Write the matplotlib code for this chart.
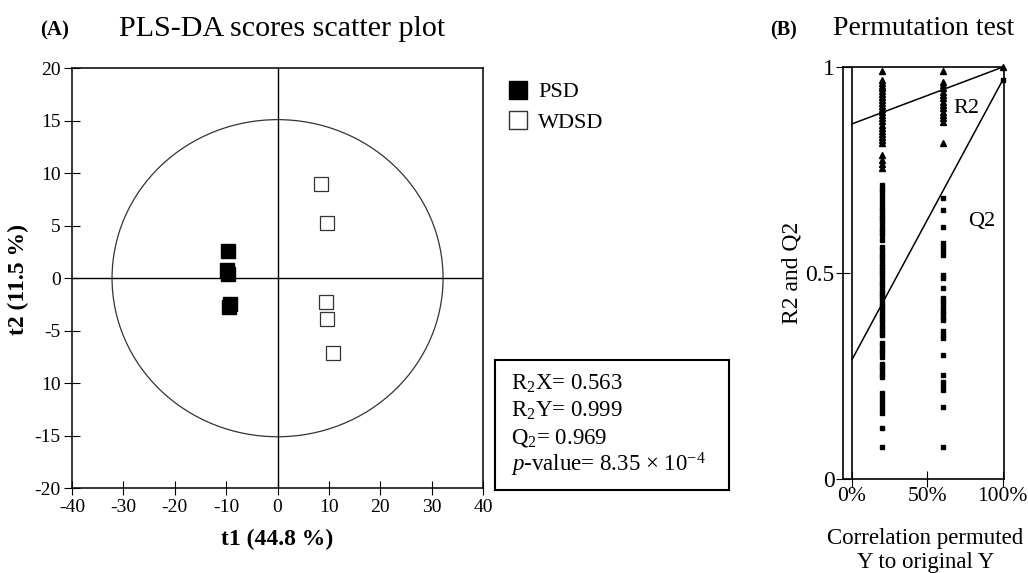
import numpy as np
import matplotlib
matplotlib.use("Agg")
import matplotlib.pyplot as plt
from matplotlib.patches import Ellipse
from matplotlib.lines import Line2D

plt.rcParams['font.family'] = ['Liberation Serif', 'DejaVu Serif']
plt.rcParams['mathtext.fontset'] = 'custom'
plt.rcParams['mathtext.rm'] = 'Liberation Serif'
plt.rcParams['mathtext.it'] = 'Liberation Serif:italic'
plt.rcParams['axes.unicode_minus'] = False

# (A) PLS-DA scores
psd_t1 = [-9.7, -9.9, -9.6, -9.3, -9.5]
psd_t2 = [2.6, 0.8, 0.4, -2.5, -2.7]
wdsd_t1 = [8.4, 9.7, 9.5, 9.7, 10.7]
wdsd_t2 = [9.0, 5.3, -2.3, -3.9, -7.1]
ellipse_rx = 32.2
ellipse_ry = 15.1
y_ticks = [20, 15, 10, 5, 0, -5, -10, -15, -20]
y_tick_labels = ['20', '15', '10', '5', '0', '-5', '10', '-15', '-20']
x_ticks = [-40, -30, -20, -10, 0, 10, 20, 30, 40]
stats_lines = ['R$_2$X= 0.563', 'R$_2$Y= 0.999', 'Q$_2$= 0.969',
               '$p$-value= 8.35 × 10$^{-4}$']

# (B) permutation test
r2_perm_20 = [0.99, 0.968, 0.962, 0.955, 0.948, 0.942, 0.935, 0.928, 0.92, 0.913,
              0.905, 0.898, 0.89, 0.883, 0.876, 0.868, 0.86, 0.852, 0.845, 0.838,
              0.83, 0.822, 0.815, 0.786, 0.775, 0.765, 0.755]
r2_perm_60 = [0.99, 0.964, 0.956, 0.948, 0.94, 0.932, 0.924, 0.916, 0.908, 0.9,
              0.892, 0.884, 0.876, 0.867, 0.815]
q2_perm_20 = [0.714, 0.705, 0.696, 0.687, 0.677, 0.667, 0.658, 0.65, 0.642, 0.634,
              0.626, 0.617, 0.608, 0.6, 0.592, 0.58, 0.563, 0.555, 0.547, 0.539,
              0.531, 0.523, 0.515, 0.507, 0.5, 0.492, 0.484, 0.476, 0.468, 0.46,
              0.452, 0.444, 0.436, 0.428, 0.42, 0.412, 0.404, 0.396, 0.388, 0.38,
              0.372, 0.364, 0.356, 0.35, 0.33, 0.322, 0.314, 0.305, 0.296, 0.28,
              0.272, 0.264, 0.256, 0.248, 0.209, 0.2, 0.19, 0.18, 0.17, 0.16,
              0.124, 0.078]
q2_perm_60 = [0.682, 0.653, 0.612, 0.573, 0.563, 0.553, 0.543, 0.495, 0.488, 0.464,
              0.44, 0.432, 0.424, 0.416, 0.408, 0.4, 0.392, 0.386, 0.36, 0.35,
              0.342, 0.30, 0.252, 0.235, 0.225, 0.216, 0.175, 0.078]
r2_orig = 0.999
q2_orig = 0.969
r2_intercept = 0.862
q2_intercept = 0.29

fig = plt.figure(figsize=(10.28, 5.73), dpi=100)

# ---- panel A
ax = fig.add_axes([0.070, 0.148, 0.400, 0.733])
ax.add_patch(Ellipse((0, 0), 2 * ellipse_rx, 2 * ellipse_ry, fill=False,
                     ec='#333333', lw=0.9))
ax.axhline(0, color='black', lw=1.0)
ax.axvline(0, color='black', lw=1.0)
ax.plot(psd_t1, psd_t2, 's', ms=10.5, mfc='black', mec='black', ls='none')
ax.plot(wdsd_t1, wdsd_t2, 's', ms=10.5, mfc='white', mec='#333333', mew=0.9, ls='none')
ax.set_xlim(-40, 40)
ax.set_ylim(-20, 20)
ax.set_xticks(x_ticks)
ax.set_yticks(y_ticks)
ax.set_yticklabels(y_tick_labels)
ax.tick_params(axis='x', direction='inout', length=10, labelsize=14, pad=3)
ax.tick_params(axis='y', direction='inout', length=12, labelsize=14, pad=2)
for s in ax.spines.values():
    s.set_linewidth(1.1)

handles = [Line2D([], [], marker='s', ls='none', ms=13, mfc='black', mec='black'),
           Line2D([], [], marker='s', ls='none', ms=13, mfc='white', mec='#333333')]
fig.legend(handles, ['PSD', 'WDSD'], loc='upper left', bbox_to_anchor=(0.476, 0.892),
           frameon=False, fontsize=16, handlelength=0.8, handletextpad=0.5,
           labelspacing=0.45)

box = fig.add_axes([0.4815, 0.145, 0.228, 0.227])
box.set_xticks([])
box.set_yticks([])
for s in box.spines.values():
    s.set_linewidth(1.5)
for i, line in enumerate(stats_lines):
    box.text(0.07, 0.815 - i * 0.208, line, transform=box.transAxes, fontsize=16.5,
             va='center', ha='left')

fig.text(0.039, 0.947, '(A)', fontsize=15, fontweight='bold', va='center')
fig.text(0.116, 0.950, 'PLS-DA scores scatter plot', fontsize=21.6, va='center')
fig.text(0.018, 0.513, 't2 (11.5 %)', fontsize=17, fontweight='bold', rotation=90,
         va='center', ha='center')
fig.text(0.270, 0.058, 't1 (44.8 %)', fontsize=17, fontweight='bold',
         va='center', ha='center')

# ---- panel B
bx = fig.add_axes([0.820, 0.164, 0.157, 0.719])
bx.axvline(0, color='black', lw=1.2)
bx.plot([0, 1], [r2_intercept, 1.0], color='black', lw=1.1)
bx.plot([0, 1], [q2_intercept, q2_orig], color='black', lw=1.1)
bx.plot([0.2] * len(r2_perm_20), r2_perm_20, '^', ms=4.5, color='black', ls='none')
bx.plot([0.6] * len(r2_perm_60), r2_perm_60, '^', ms=4.5, color='black', ls='none')
bx.plot([0.2] * len(q2_perm_20), q2_perm_20, 's', ms=3.2, color='black', ls='none')
bx.plot([0.6] * len(q2_perm_60), q2_perm_60, 's', ms=3.2, color='black', ls='none')
bx.plot([1.0], [r2_orig], '^', ms=4.5, color='black', clip_on=False)
bx.plot([1.0], [q2_orig], 's', ms=3.2, color='black', clip_on=False)
bx.text(0.67, 0.90, 'R2', fontsize=16, va='center')
bx.text(0.77, 0.624, 'Q2', fontsize=16, va='center')
bx.set_xlim(-0.06, 1.01)
bx.set_ylim(0, 1)
bx.set_xticks([0, 0.5, 1])
bx.set_xticklabels(['0%', '50%', '100%'])
bx.set_yticks([0, 0.5, 1])
bx.set_yticklabels(['0', '0.5', '1'])
bx.tick_params(axis='x', direction='inout', length=12, labelsize=15.5, pad=0)
bx.tick_params(axis='y', direction='inout', length=10, labelsize=17, pad=1)
for s in bx.spines.values():
    s.set_linewidth(1.2)
bx.set_ylabel('R2 and Q2', fontsize=17, labelpad=2)
fig.text(0.900, 0.039, 'Correlation permuted\nY to original Y', fontsize=16.5,
         ha='center', va='center', linespacing=1.2)

fig.text(0.749, 0.947, '(B)', fontsize=14.5, fontweight='bold', va='center')
fig.text(0.810, 0.950, 'Permutation test', fontsize=20, va='center')

fig.savefig('out.png', dpi=100)
